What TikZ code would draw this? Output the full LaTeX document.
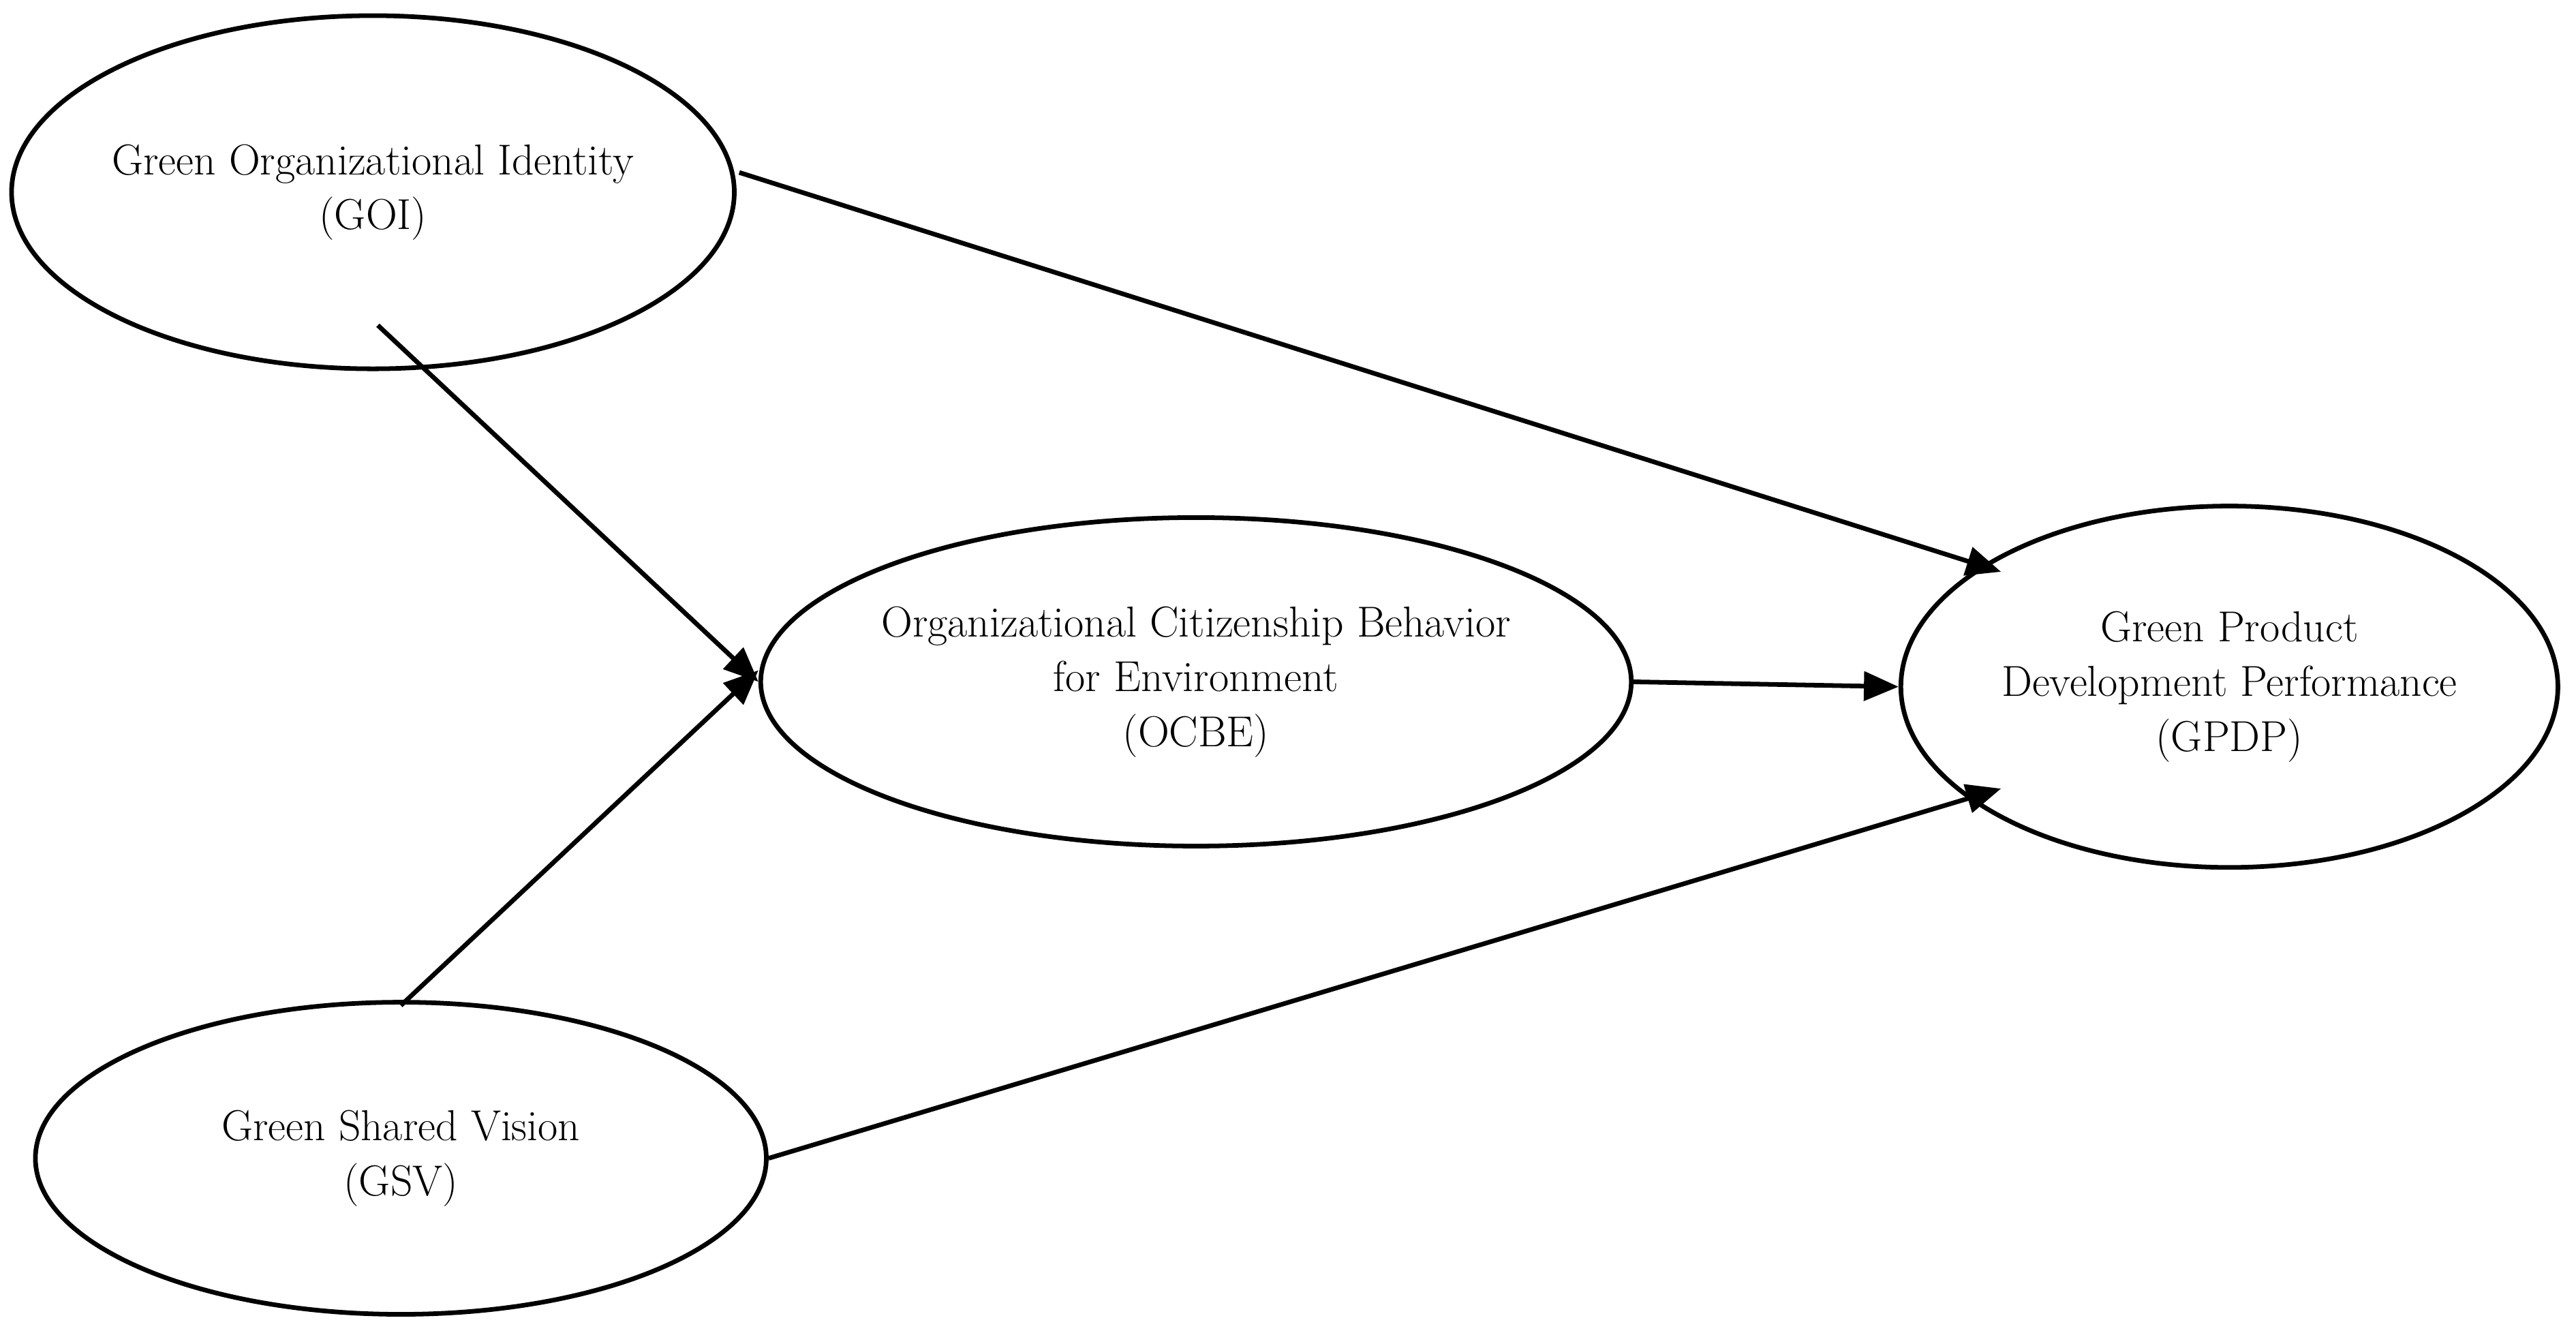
\documentclass[tikz,border=0pt]{standalone}
\usetikzlibrary{shapes.geometric,arrows.meta}
\begin{document}
\begin{tikzpicture}[x=0.02cm,y=-0.02cm,
  el/.style={ellipse,draw,line width=1.6pt,align=center,inner xsep=-1.2cm,inner ysep=0pt,font=\fontsize{15}{19}\selectfont},
  ar/.style={line width=1.6pt,-{Triangle[length=12pt,width=10pt]}}]
\useasboundingbox (0,0) rectangle (1568,810);
\node[el,minimum width=8.8cm,minimum height=4.3cm] (goi) at (227,117) {Green Organizational Identity\\(GOI)};
\node[el,minimum width=10.6cm,minimum height=4.0cm] (ocbe) at (728,415) {Organizational Citizenship Behavior\\for Environment\\(OCBE)};
\node[el,minimum width=8.0cm,minimum height=4.4cm] (gpdp) at (1357,418) {Green Product\\Development Performance\\(GPDP)};
\node[el,minimum width=8.9cm,minimum height=3.8cm] (gsv) at (244,705) {Green Shared Vision\\(GSV)};
\coordinate (a1) at (450,105); \coordinate (b1) at (1218,348);
\coordinate (a2) at (230,198);
\coordinate (a3) at (244,612);
\coordinate (b5) at (1218,480);
\draw[ar] (a1) -- (b1);
\draw[ar] (a2) -- (ocbe.west);
\draw[ar] (a3) -- ([yshift=4]ocbe.west);
\draw[ar] (ocbe.east) -- (gpdp.west);
\draw[ar] (gsv.east) -- (b5);
\end{tikzpicture}
\end{document}
